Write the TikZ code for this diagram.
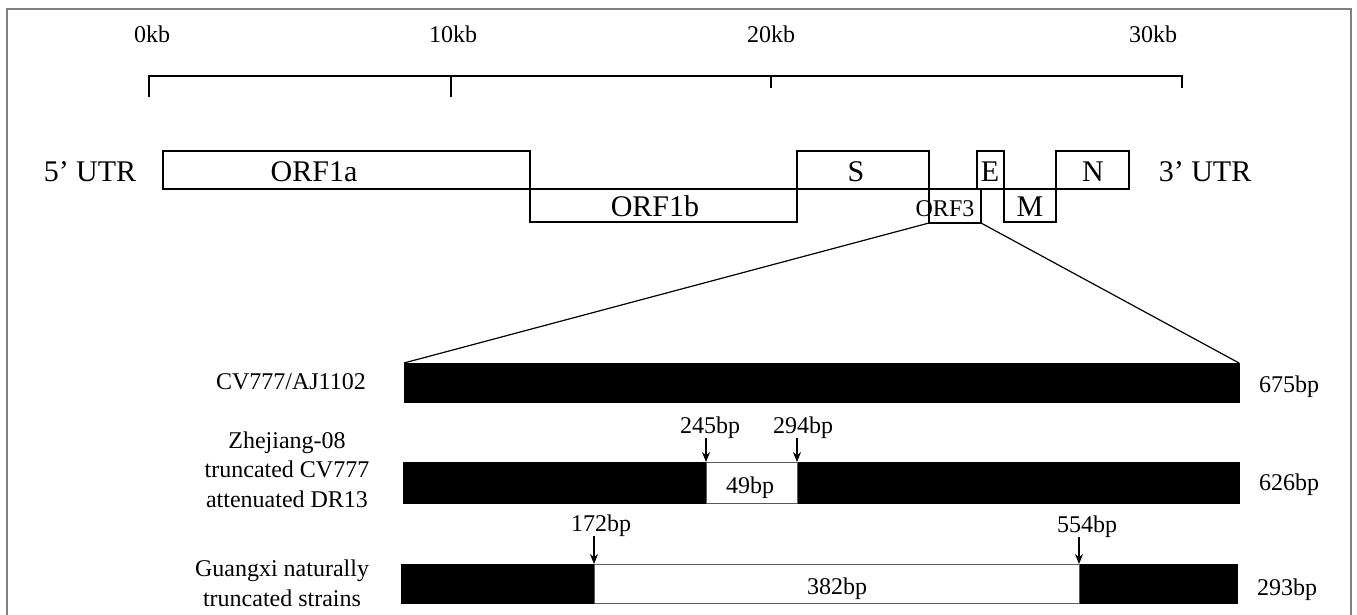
\documentclass[tikz,border=0pt]{standalone}
\usepackage{fontspec}
\setmainfont{Liberation Serif}
\usetikzlibrary{arrows.meta}
\newcommand\bigfnt{\fontsize{30}{36}\selectfont}
\newcommand\smfnt{\fontsize{24}{29.5}\selectfont}
\begin{document}
\begin{tikzpicture}[x=1pt,y=-1pt,
  gbox/.style={draw, line width=1.3pt, inner sep=0pt, outer sep=0pt, anchor=north west},
  bar/.style={fill=black, draw=black, line width=0.8pt, inner sep=0pt, outer sep=0pt, anchor=north west},
  gap/.style={fill=white, draw=gray!70!black, line width=0.8pt, inner sep=0pt, outer sep=0pt, anchor=north west},
  big/.style={font=\bigfnt, inner sep=0pt, anchor=base},
  sm/.style={font=\smfnt, inner sep=0pt, anchor=base},
  arr/.style={-{Stealth[length=10pt,width=8pt]}, line width=1.1pt},
  zoomline/.style={line width=1.2pt},
  scaleline/.style={line width=1.3pt}]
\useasboundingbox (0,0) rectangle (1357,615);
% frame
\draw[gray, line width=1.3pt] (7,615) -- (7,9) -- (1351,9) -- (1351,615);
% scale
\node[sm] (k0) at (152,43) {0kb};
\node[sm] (k10) at (453,43) {10kb};
\node[sm] (k20) at (771,43) {20kb};
\node[sm] (k30) at (1153,43) {30kb};
\draw[scaleline] (149,97) -- (149,76) -- (1182,76) -- (1182,88);
\draw[scaleline] (451,76) -- (451,97);
\draw[scaleline] (771,76) -- (771,88);
% genome boxes
\node[gbox, minimum width=367pt, minimum height=38pt] (orf1a) at (163,151) {};
\node[gbox, minimum width=267pt, minimum height=33pt] (orf1b) at (530,189) {};
\node[gbox, minimum width=132pt, minimum height=38pt] (s) at (797,151) {};
\node[gbox, minimum width=52pt, minimum height=34pt] (orf3) at (929,189) {};
\node[gbox, minimum width=27pt, minimum height=38pt] (e) at (977,151) {};
\node[gbox, minimum width=52pt, minimum height=33pt] (m) at (1004,189) {};
\node[gbox, minimum width=73pt, minimum height=38pt] (n) at (1056,151) {};
% genome labels
\node[big] (utr5) at (90,181) {5’ UTR};
\node[big] (l1a) at (314,181) {ORF1a};
\node[big] (l1b) at (655,216) {ORF1b};
\node[big] (ls) at (856,182) {S};
\node[big] (le) at (990,182) {E};
\node[sm] (l3) at (945,216) {ORF3};
\node[big] (lm) at (1030,216) {M};
\node[big] (ln) at (1093,182) {N};
\node[big] (utr3) at (1205,181) {3’ UTR};
% bars
\node[bar, minimum width=835pt, minimum height=39pt] (bar1) at (404,363) {};
\node[bar, minimum width=836pt, minimum height=41pt] (bar2) at (403,462) {};
\node[bar, minimum width=836pt, minimum height=39pt] (bar3) at (401,564) {};
\node[gap, minimum width=91pt, minimum height=41pt] (gap2) at (706,462) {};
\node[gap, minimum width=485pt, minimum height=39pt] (gap3) at (594,564) {};
% zoom lines
\draw[zoomline] (orf3.south west) -- (bar1.north west);
\draw[zoomline] (orf3.south east) -- (bar1.north east);
% left labels
\node[sm, anchor=base east] (cv) at (366,389) {CV777/AJ1102};
\node[sm, align=center] (zj) at (287,507) {Zhejiang-08\\truncated CV777\\attenuated DR13};
\node[sm, align=center] (gx) at (282,606) {Guangxi naturally\\truncated strains};
% right labels
\node[sm] (b675) at (1289,392) {675bp};
\node[sm] (b626) at (1289,490) {626bp};
\node[sm] (b293) at (1287,595) {293bp};
% gap labels
\node[sm] (b49) at (750,493) {49bp};
\node[sm] (b382) at (837,594) {382bp};
% position labels and arrows
\node[sm] (p245) at (710,433) {245bp};
\node[sm] (p294) at (803,433) {294bp};
\node[sm] (p172) at (601,531) {172bp};
\node[sm] (p554) at (1087,532) {554bp};
\draw[arr] (p245.south -| gap2.north west) -- (gap2.north west);
\draw[arr] (p294.south -| gap2.north east) -- (gap2.north east);
\draw[arr] (p172.south -| gap3.north west) -- (gap3.north west);
\draw[arr] (p554.south -| gap3.north east) -- (gap3.north east);
\end{tikzpicture}
\end{document}
